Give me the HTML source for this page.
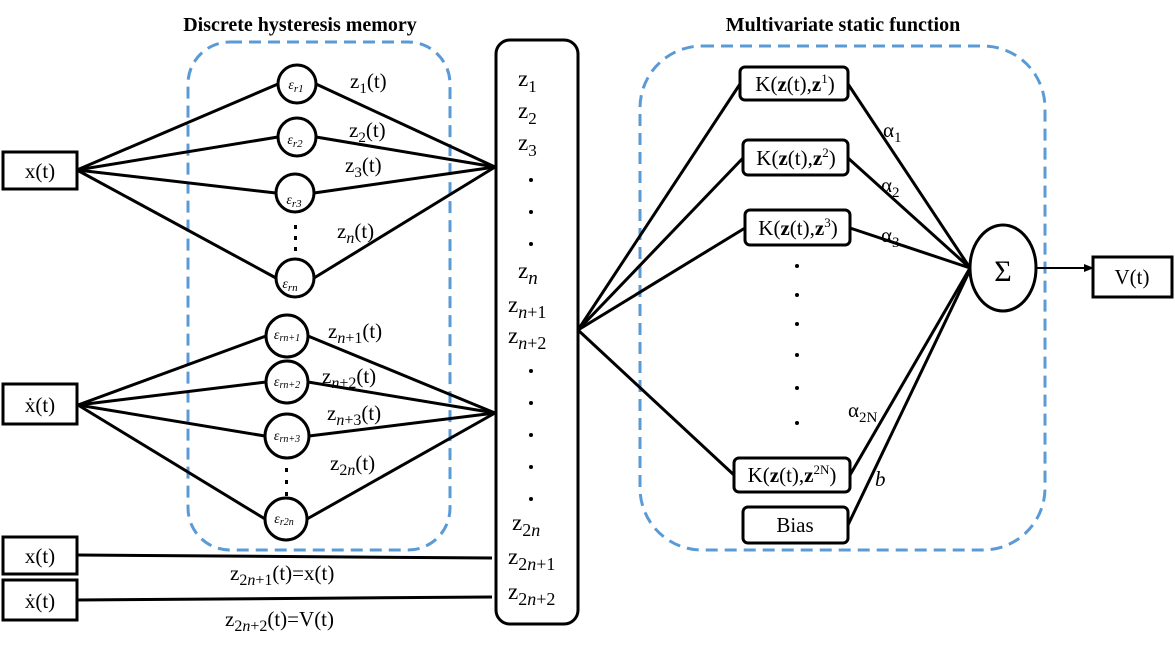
<!DOCTYPE html>
<html><head><meta charset="utf-8"><style>
html,body{margin:0;padding:0;background:#fff;}
svg{display:block;font-family:"Liberation Serif",serif;}
</style></head><body>
<svg width="1175" height="648" viewBox="0 0 1175 648" xmlns="http://www.w3.org/2000/svg">
<defs><marker id="ar" markerWidth="10" markerHeight="10" refX="9" refY="5" orient="auto" markerUnits="userSpaceOnUse"><path d="M0,1 L10,5 L0,9 Z" fill="#000"/></marker></defs>
<g font-weight="bold" font-size="20" text-anchor="middle">
<text x="300" y="31">Discrete hysteresis memory</text>
<text x="843" y="31">Multivariate static function</text>
</g>
<rect x="188" y="42" width="262" height="508" rx="42" fill="none" stroke="#5b9bd5" stroke-width="3" stroke-dasharray="12,7"/>
<rect x="640" y="46" width="405" height="504" rx="62" fill="none" stroke="#5b9bd5" stroke-width="3" stroke-dasharray="12,7"/>
<g stroke="#000" stroke-width="3" fill="none">
<line x1="77" y1="170" x2="278" y2="84"/><line x1="77" y1="170" x2="278" y2="137"/><line x1="77" y1="170" x2="276" y2="193"/><line x1="77" y1="170" x2="276" y2="278"/>
<line x1="316" y1="84" x2="495" y2="167"/><line x1="316" y1="137" x2="495" y2="167"/><line x1="314" y1="193" x2="495" y2="167"/><line x1="314" y1="278" x2="495" y2="167"/>
<line x1="78" y1="405" x2="266" y2="336"/><line x1="78" y1="405" x2="266" y2="382"/><line x1="78" y1="405" x2="265" y2="436"/><line x1="78" y1="405" x2="265" y2="519"/>
<line x1="308" y1="336" x2="495" y2="413"/><line x1="308" y1="382" x2="495" y2="413"/><line x1="309" y1="436" x2="495" y2="413"/><line x1="307" y1="519" x2="495" y2="413"/>
<line x1="77" y1="555" x2="492" y2="558"/><line x1="77" y1="600" x2="492" y2="597"/>
<line x1="578" y1="330" x2="740" y2="84"/><line x1="578" y1="330" x2="743" y2="158"/><line x1="578" y1="330" x2="745" y2="228"/><line x1="578" y1="330" x2="734" y2="475"/>
<line x1="848" y1="84" x2="970" y2="268"/><line x1="848" y1="158" x2="970" y2="268"/><line x1="850" y1="228" x2="970" y2="268"/><line x1="850" y1="475" x2="970" y2="268"/><line x1="848" y1="525" x2="970" y2="270"/>
</g>
<g stroke="#000" stroke-width="3" fill="#fff">
<rect x="3" y="152" width="74" height="37"/>
<rect x="3" y="384" width="74" height="40"/>
<rect x="3" y="537" width="74" height="37"/>
<rect x="3" y="580" width="74" height="40"/>
<rect x="496" y="40" width="82" height="584" rx="14"/>
<circle cx="297" cy="84" r="19"/><circle cx="297" cy="137" r="19"/><circle cx="295" cy="193" r="19"/><circle cx="295" cy="278" r="19"/>
<circle cx="287" cy="336" r="21"/><circle cx="287" cy="382" r="21"/><circle cx="287" cy="436" r="22"/><circle cx="286" cy="519" r="21"/>
<rect x="740" y="67" width="108" height="33" rx="5"/><rect x="743" y="140" width="105" height="35" rx="5"/><rect x="745" y="210" width="105" height="35" rx="5"/>
<rect x="734" y="458" width="116" height="34" rx="5"/><rect x="743" y="507" width="105" height="36" rx="5"/>
<ellipse cx="1003" cy="268" rx="33" ry="43"/>
<rect x="1093" y="257" width="79" height="40"/>
</g>
<line x1="1036" y1="268" x2="1093" y2="268" stroke="#000" stroke-width="2" marker-end="url(#ar)"/>
<g fill="#000">
<rect x="294" y="225" width="3" height="4"/><rect x="294" y="236" width="3" height="4"/><rect x="294" y="247" width="3" height="4"/>
<rect x="285" y="468" width="3" height="4"/><rect x="285" y="480" width="3" height="4"/><rect x="285" y="492" width="3" height="4"/>
<circle cx="797" cy="266" r="2"/><circle cx="797" cy="295" r="2"/><circle cx="797" cy="324" r="2"/><circle cx="797" cy="355" r="2"/><circle cx="797" cy="388" r="2"/><circle cx="797" cy="423" r="2"/>
<circle cx="531" cy="180" r="2"/><circle cx="531" cy="212" r="2"/><circle cx="531" cy="244" r="2"/>
<circle cx="531" cy="371" r="2"/><circle cx="531" cy="403" r="2"/><circle cx="531" cy="435" r="2"/><circle cx="531" cy="467" r="2"/><circle cx="531" cy="499" r="2"/>
</g>
<g font-size="21" text-anchor="middle">
<text x="40" y="178">x(t)</text><text x="40" y="412">ẋ(t)</text><text x="40" y="563">x(t)</text><text x="40" y="608">ẋ(t)</text>
<text x="1132" y="284">V(t)</text>
<text x="795" y="91">K(<tspan font-weight="bold">z</tspan>(t),<tspan font-weight="bold">z</tspan><tspan font-size="13" dy="-8">1</tspan><tspan dy="8">)</tspan></text>
<text x="796" y="165">K(<tspan font-weight="bold">z</tspan>(t),<tspan font-weight="bold">z</tspan><tspan font-size="13" dy="-8">2</tspan><tspan dy="8">)</tspan></text>
<text x="798" y="235">K(<tspan font-weight="bold">z</tspan>(t),<tspan font-weight="bold">z</tspan><tspan font-size="13" dy="-8">3</tspan><tspan dy="8">)</tspan></text>
<text x="792" y="482">K(<tspan font-weight="bold">z</tspan>(t),<tspan font-weight="bold">z</tspan><tspan font-size="13" dy="-8">2N</tspan><tspan dy="8">)</tspan></text>
<text x="795" y="532">Bias</text>
<text x="1003" y="281" font-size="30">Σ</text>
</g>
<g font-size="21">
<text x="883" y="137">α<tspan font-size="15" dy="5">1</tspan></text>
<text x="881" y="192">α<tspan font-size="15" dy="5">2</tspan></text>
<text x="881" y="242">α<tspan font-size="15" dy="5">3</tspan></text>
<text x="848" y="417">α<tspan font-size="15" dy="5">2N</tspan></text>
<text x="875" y="486" font-style="italic">b</text>
<text x="350" y="88">z<tspan font-size="15" dy="5">1</tspan><tspan dy="-5">(t)</tspan></text>
<text x="349" y="137">z<tspan font-size="15" dy="5">2</tspan><tspan dy="-5">(t)</tspan></text>
<text x="345" y="172">z<tspan font-size="15" dy="5">3</tspan><tspan dy="-5">(t)</tspan></text>
<text x="337" y="238">z<tspan font-size="16" font-style="italic" dy="5">n</tspan><tspan dy="-5">(t)</tspan></text>
<text x="328" y="338">z<tspan font-size="16" dy="5"><tspan font-style="italic">n</tspan>+1</tspan><tspan dy="-5">(t)</tspan></text>
<text x="322" y="383">z<tspan font-size="16" dy="5"><tspan font-style="italic">n</tspan>+2</tspan><tspan dy="-5">(t)</tspan></text>
<text x="327" y="420">z<tspan font-size="16" dy="5"><tspan font-style="italic">n</tspan>+3</tspan><tspan dy="-5">(t)</tspan></text>
<text x="330" y="470">z<tspan font-size="16" dy="5">2<tspan font-style="italic">n</tspan></tspan><tspan dy="-5">(t)</tspan></text>
<text x="230" y="580">z<tspan font-size="16" dy="5">2<tspan font-style="italic">n</tspan>+1</tspan><tspan dy="-5">(t)=x(t)</tspan></text>
<text x="225" y="626">z<tspan font-size="16" dy="5">2<tspan font-style="italic">n</tspan>+2</tspan><tspan dy="-5">(t)=V(t)</tspan></text>
</g>
<g font-size="23">
<text x="518" y="86">z<tspan font-size="17" dy="6">1</tspan></text>
<text x="518" y="118">z<tspan font-size="17" dy="6">2</tspan></text>
<text x="518" y="150">z<tspan font-size="17" dy="6">3</tspan></text>
<text x="518" y="278">z<tspan font-size="19" font-style="italic" dy="6">n</tspan></text>
<text x="508" y="312">z<tspan font-size="18" dy="6"><tspan font-style="italic">n</tspan>+1</tspan></text>
<text x="508" y="343">z<tspan font-size="18" dy="6"><tspan font-style="italic">n</tspan>+2</tspan></text>
<text x="512" y="530">z<tspan font-size="18" dy="6">2<tspan font-style="italic">n</tspan></tspan></text>
<text x="508" y="564">z<tspan font-size="18" dy="6">2<tspan font-style="italic">n</tspan>+1</tspan></text>
<text x="508" y="599">z<tspan font-size="18" dy="6">2<tspan font-style="italic">n</tspan>+2</tspan></text>
</g>
<g font-size="14" font-style="italic" text-anchor="middle">
<text x="296" y="89">ε<tspan font-size="11" dy="3">r1</tspan></text>
<text x="295" y="144">ε<tspan font-size="11" dy="3">r2</tspan></text>
<text x="294" y="204">ε<tspan font-size="11" dy="3">r3</tspan></text>
<text x="290" y="288">ε<tspan font-size="11" dy="3">rn</tspan></text>
<text x="287" y="339">ε<tspan font-size="10" dy="2">rn+1</tspan></text>
<text x="287" y="386">ε<tspan font-size="10" dy="2">rn+2</tspan></text>
<text x="287" y="440">ε<tspan font-size="10" dy="2">rn+3</tspan></text>
<text x="284" y="523">ε<tspan font-size="10" dy="2">r2n</tspan></text>
</g>
</svg>
</body></html>
